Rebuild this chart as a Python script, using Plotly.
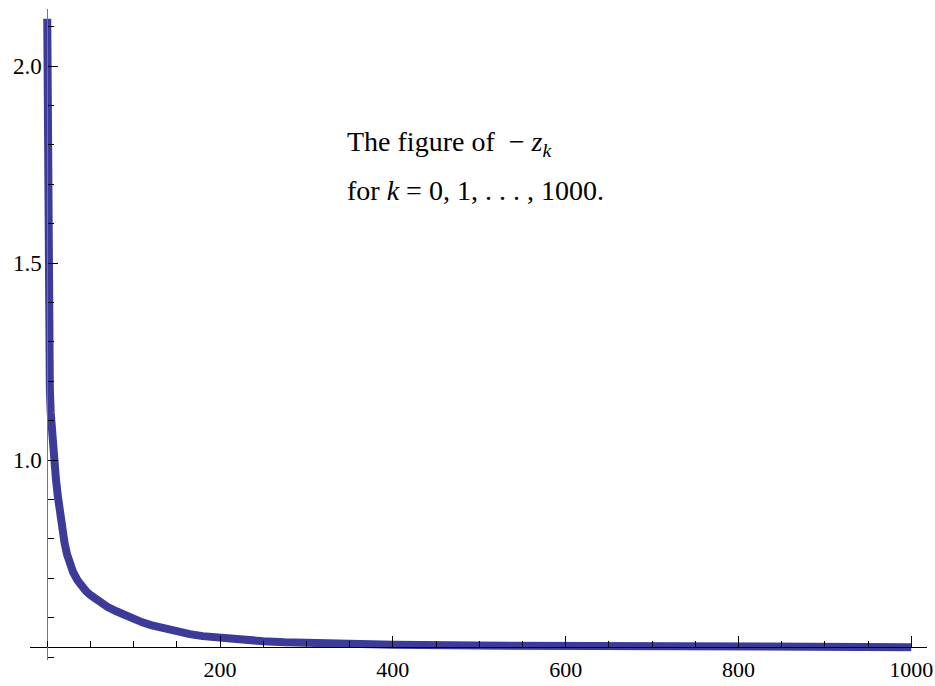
import plotly.graph_objects as go

# Data
k_values = [0, 1, 2, 3, 4, 5, 6, 7, 8, 9, 10, 12, 14, 16, 18, 20, 23, 26, 30, 35,
            40, 45, 50, 55, 60, 70, 80, 90, 100, 110, 120, 130, 140, 150, 165, 180,
            200, 225, 250, 275, 300, 350, 400, 500, 600, 700, 800, 900, 1000]
neg_z = [2.12, 1.44, 1.27, 1.18, 1.12, 1.08, 1.05, 1.025, 1.00, 0.975, 0.953,
         0.912, 0.876, 0.843, 0.815, 0.79, 0.76, 0.738, 0.715, 0.695, 0.679, 0.667,
         0.657, 0.648, 0.640, 0.627, 0.616, 0.605, 0.596, 0.588, 0.581, 0.575,
         0.569, 0.564, 0.558, 0.553, 0.548, 0.543, 0.540, 0.5375, 0.5355, 0.533,
         0.531, 0.529, 0.5275, 0.5265, 0.526, 0.5255, 0.525]

x_tickvals = [200, 400, 600, 800, 1000]
x_ticktext = ["200", "400", "600", "800", "1000"]
y_tickvals = [1.0, 1.5, 2.0]
y_ticktext = ["1.0", "1.5", "2.0"]

W, H = 935, 686
# pixel geometry
x_dom = (30 / W, 927 / W)
y_dom = ((H - 660) / H, (H - 9) / H)
x_range = [(30 - 47.25) / 0.864, (927 - 47.25) / 0.864]
y_range = [1 + (460 - 660) / 394, 1 + (460 - 9) / 394]

fig = go.Figure()
fig.add_trace(go.Scatter(
    x=k_values, y=neg_z, mode="lines",
    line=dict(color="#3D3B99", width=8),
    hoverinfo="skip", showlegend=False,
))

fig.update_layout(
    width=W, height=H,
    margin=dict(l=0, r=0, t=0, b=0),
    paper_bgcolor="white", plot_bgcolor="white",
    xaxis=dict(
        domain=list(x_dom), range=x_range, anchor="free", position=(H - 647) / H,
        automargin=False,
        showgrid=False, zeroline=False, showline=True, linecolor="black", linewidth=1,
        tickmode="array", tickvals=x_tickvals, ticktext=x_ticktext,
        ticks="inside", ticklen=11, tickcolor="black", tickwidth=1,
        minor=dict(dtick=50, tick0=0, ticks="inside", ticklen=6, tickcolor="black", tickwidth=1),
        tickfont=dict(family="Liberation Serif", size=22, color="black"),
        ticklabelstandoff=3, ticklabeloverflow="allow",
    ),
    yaxis=dict(
        domain=list(y_dom), range=y_range, anchor="free", position=47.25 / W,
        automargin=False,
        showgrid=False, zeroline=False, showline=True, linecolor="#777", linewidth=1,
        tickmode="array", tickvals=y_tickvals, ticktext=y_ticktext,
        ticks="inside", ticklen=10, tickcolor="black", tickwidth=1,
        minor=dict(dtick=0.1, tick0=0, ticks="inside", ticklen=6, tickcolor="black", tickwidth=1),
        tickfont=dict(family="Liberation Serif", size=23, color="black"),
        ticklabelstandoff=1,
    ),
)

annot_font = dict(family="Liberation Serif", size=28, color="black")
fig.add_annotation(
    xref="paper", yref="paper", x=345 / W, y=(H - 143) / H,
    xanchor="left", yanchor="middle", showarrow=False,
    text="The figure of  − <i>z</i><sub><i>k</i></sub>", font=annot_font,
)
fig.add_annotation(
    xref="paper", yref="paper", x=345 / W, y=(H - 191) / H,
    xanchor="left", yanchor="middle", showarrow=False,
    text="for <i>k</i> = 0, 1, . . . , 1000.", font=annot_font,
)

post = (
    "document.body.style.margin='0px';"
    "document.body.style.overflow='hidden';"
    "var gd=document.getElementById('{plot_id}');"
    "if(window.Plotly&&gd){Plotly.Plots.resize(gd);}"
)
fig.write_html("out.html", post_script=post, config={"displayModeBar": False})
